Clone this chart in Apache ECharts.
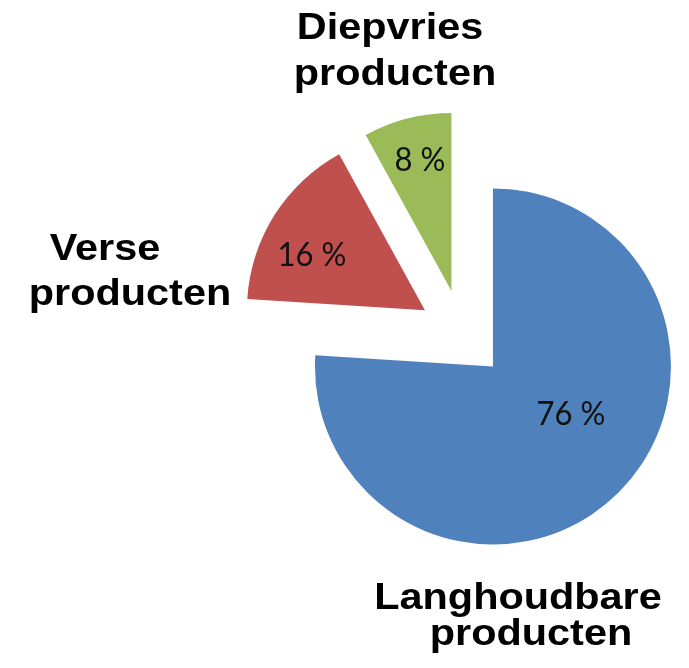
<!DOCTYPE html>
<html>
<head>
<meta charset="utf-8">
<script src="https://cdn.jsdelivr.net/npm/echarts@6/dist/echarts.min.js"></script>
<style>
  html, body { margin: 0; padding: 0; background: #fff; }
  #chart { width: 689px; height: 668px; }
</style>
</head>
<body>
<div id="chart"></div>
<script>
// categorieën en percentages
var categories = ["Langhoudbare producten", "Verse producten", "Diepvries producten"];
var values = [76, 16, 8];
var colors = ["#4F81BD", "#C0504D", "#9BBB59"];

// positie van de percentages (midden van de tekst)
var pctPos = [[571, 414], [312, 255], [420, 160]];

// naamlabels, per regel: [tekst, x, y]
var nameLines = [
  ["Langhoudbare", 518, 599],
  ["producten", 531, 635],
  ["Verse", 105, 250],
  ["producten", 130, 295],
  ["Diepvries", 390, 29],
  ["producten", 395, 75]
];

var chart = echarts.init(document.getElementById("chart"));

// percentages als tekst boven de taartpunten
var pctText = values.map(function (v, i) {
  return {
    type: "text",
    x: pctPos[i][0],
    y: pctPos[i][1],
    scaleX: 0.94,
    z: 10,
    style: {
      text: v + " %",
      fontFamily: "Lato",
      fontSize: 33,
      fill: "#111",
      align: "center",
      verticalAlign: "middle"
    }
  };
});

var nameText = nameLines.map(function (l) {
  return {
    type: "text",
    x: l[1],
    y: l[2],
    scaleX: 1.15,
    style: {
      text: l[0],
      fontFamily: "Liberation Sans",
      fontWeight: "bold",
      fontSize: 36,
      fill: "#000",
      align: "center",
      verticalAlign: "middle"
    }
  };
});

var option = {
  animation: false,
  backgroundColor: "#ffffff",
  series: [
    {
      type: "pie",
      center: [462.5, 334],
      radius: [0, 178],
      startAngle: 90,
      clockwise: true,
      selectedMode: "multiple",
      selectedOffset: 44.5,
      silent: true,
      emphasis: { disabled: true },
      select: { itemStyle: { borderWidth: 0 } },
      label: { show: false },
      labelLine: { show: false },
      data: values.map(function (v, i) {
        return {
          name: categories[i],
          value: v,
          selected: true,
          itemStyle: { color: colors[i] }
        };
      })
    }
  ],
  graphic: pctText.concat(nameText)
};

chart.setOption(option);
</script>
</body>
</html>
